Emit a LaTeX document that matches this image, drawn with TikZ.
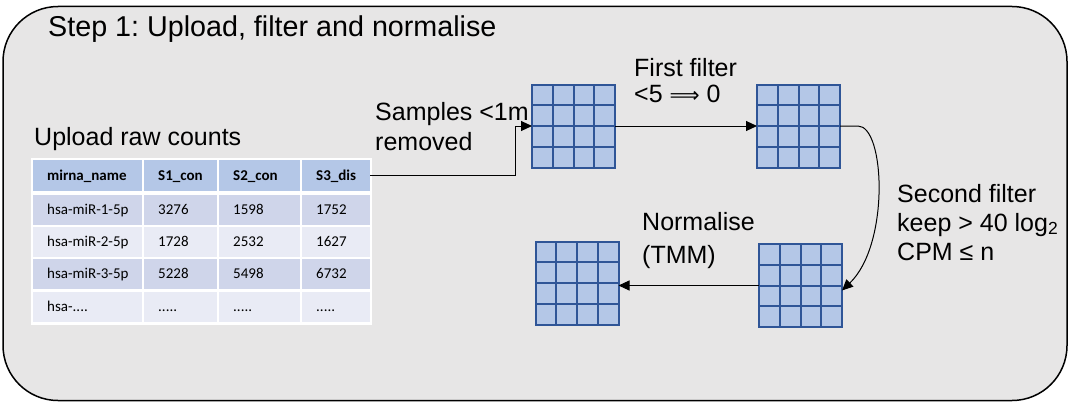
\documentclass[tikz,border=0pt]{standalone}
\usepackage{fontspec}
\setmainfont{Liberation Sans}
\newfontfamily\tabfont{Carlito}
\newfontfamily\dejavu{DejaVu Sans}
\usetikzlibrary{arrows.meta,calc}
\frenchspacing
\definecolor{bgfill}{HTML}{E7E6E6}
\definecolor{gfill}{HTML}{B4C7E7}
\definecolor{gline}{HTML}{2F5597}
\definecolor{hdrfill}{HTML}{B4C7E7}
\definecolor{rowa}{HTML}{CFD5EA}
\definecolor{rowb}{HTML}{E9EBF5}
\tikzset{
  outerbox/.style={draw=black, line width=1.5pt, fill=bgfill, rounded corners=55pt},
  gridbox/.style={draw=gline, line width=2pt, fill=gfill, minimum size=83pt, inner sep=0pt, outer sep=0pt},
  gridln/.style={draw=gline, line width=2pt},
  lbl/.style={anchor=base west, inner sep=0pt, font=\fontsize{25}{30}\selectfont},
  ttl/.style={anchor=base west, inner sep=0pt, font=\fontsize{28.7}{34}\selectfont},
  cell/.style={anchor=north west, inner xsep=14pt, inner ysep=0pt, text height=11.5pt, text depth=2.5pt, font=\tabfont\fontsize{15}{18}\selectfont, text=black},
  hcell/.style={cell, fill=hdrfill, minimum height=31pt, font=\tabfont\bfseries\fontsize{15}{18}\selectfont},
  acell/.style={cell, fill=rowa, minimum height=30pt},
  bcell/.style={cell, fill=rowb, minimum height=30pt},
  conn/.style={draw=black, line width=1pt, -{Triangle[length=11pt,width=10pt]}},
}
\newcommand\tcell[6]{\node[#6] (#1) at (#2,#3) {\makebox[#4pt][l]{#5}};}
\begin{document}
\begin{tikzpicture}[x=1pt,y=-1pt]
\useasboundingbox (0,0) rectangle (1070,404);
\draw[outerbox] (3,6.5) rectangle (1067,400.5);

\node[ttl] (title) at (48,37) {Step 1: Upload, filter and normalise};
\node[lbl] (upl) at (34,145) {Upload raw counts};

% table
\fill[white] (31,157.5) rectangle (372,324.5);
\tcell{h1}{33}{160}{81}{mirna\_name}{hcell}
\tcell{h2}{144}{160}{45}{S1\_con}{hcell}
\tcell{h3}{219}{160}{53}{S2\_con}{hcell}
\tcell{h4}{302}{160}{40}{S3\_dis}{hcell}
\tcell{a1}{33}{195}{81}{hsa-miR-1-5p}{acell}
\tcell{a2}{144}{195}{45}{3276}{acell}
\tcell{a3}{219}{195}{53}{1598}{acell}
\tcell{a4}{302}{195}{40}{1752}{acell}
\tcell{b1}{33}{227}{81}{hsa-miR-2-5p}{bcell}
\tcell{b2}{144}{227}{45}{1728}{bcell}
\tcell{b3}{219}{227}{53}{2532}{bcell}
\tcell{b4}{302}{227}{40}{1627}{bcell}
\tcell{c1}{33}{259}{81}{hsa-miR-3-5p}{acell}
\tcell{c2}{144}{259}{45}{5228}{acell}
\tcell{c3}{219}{259}{53}{5498}{acell}
\tcell{c4}{302}{259}{40}{6732}{acell}
\tcell{d1}{33}{292}{81}{hsa-....}{bcell}
\tcell{d2}{144}{292}{45}{.....}{bcell}
\tcell{d3}{219}{292}{53}{.....}{bcell}
\tcell{d4}{302}{292}{40}{.....}{bcell}

% grids
\node[gridbox] (g1) at (573.5,126) {};
\node[gridbox] (g2) at (798.5,126) {};
\node[gridbox] (g3) at (800.5,285.5) {};
\node[gridbox] (g4) at (577,283) {};
\foreach \g in {g1,g2,g3,g4}{
  \foreach \i in {1,2,3}{
    \draw[gridln] ($(\g.north west)!\i/4!(\g.north east)$) -- ($(\g.south west)!\i/4!(\g.south east)$);
    \draw[gridln] ($(\g.north west)!\i/4!(\g.south west)$) -- ($(\g.north east)!\i/4!(\g.south east)$);
  }
}

% labels
\node[lbl] (samp1) at (375,120.5) {Samples <1m};
\node[lbl] (samp2) at (375,150) {removed};
\node[lbl] (first1) at (634,76) {First filter};
\node[lbl] (first2) at (634,102) {<5 {\dejavu\fontsize{21}{24}\selectfont ⟹} 0};
\node[lbl] (sec1) at (897,202) {Second filter};
\node[lbl] (sec2) at (897,231) {keep > 40 log\textsubscript{2}};
\node[lbl] (sec3) at (897,260) {CPM ≤ n};
\node[lbl] (norm1) at (642,230) {Normalise};
\node[lbl] (norm2) at (642,263) {(TMM)};

% connectors
\draw[conn] (h4.east) -| ([xshift=-17pt]g1.west) -- (g1.west);
\draw[conn] (g1.east) -- (g2.west);
\draw[conn] (g2.east) -- ++(18,0) .. controls +(27,0) and +(48,-46) .. ([yshift=-5pt]g3.east);
\draw[conn] (g3.west) -- (g3.west -| g4.east);
\end{tikzpicture}
\end{document}
